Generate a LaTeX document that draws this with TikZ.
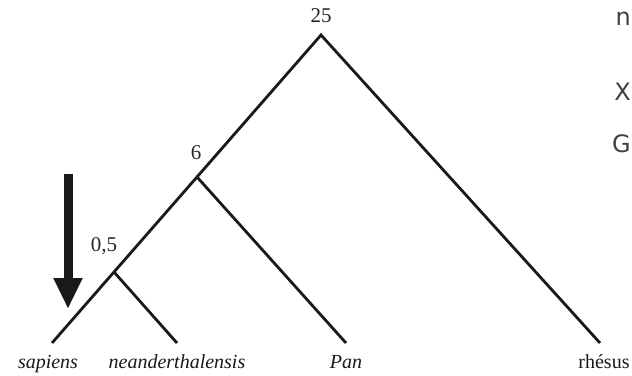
\documentclass[tikz,border=0pt]{standalone}
\usepackage{fontspec}
\setmainfont{Liberation Serif}
\newfontfamily\cutfont{DejaVu Sans}
\usetikzlibrary{arrows.meta}
\begin{document}
\begin{tikzpicture}[x=1pt,y=-1pt,
  branch/.style={line width=2.8pt, line cap=butt, black!90},
  lbl/.style={inner sep=0pt, font=\fontsize{21}{23}\selectfont, text=black!85},
  leaf/.style={inner sep=0pt, anchor=base, font=\fontsize{20}{22}\selectfont, text=black!90},
  cut/.style={inner sep=0pt, anchor=base east, font=\cutfont\fontsize{24}{26}\selectfont, text=black!75}]
\useasboundingbox (0,0) rectangle (632,375);
% tree points
\coordinate (root) at (321,35);
\coordinate (n6) at (197,177);
\coordinate (n05) at (114,272);
\coordinate (sap) at (52,343);
\coordinate (nea) at (177,343);
\coordinate (pan) at (346,343);
\coordinate (rhe) at (600,343);
% branches
\draw[branch] (sap) -- (root) -- (rhe);
\draw[branch] (n6) -- (pan);
\draw[branch] (n05) -- (nea);
% node labels
\node[lbl] (l25) at (321,16) {25};
\node[lbl] (l6) at (196,153) {6};
\node[lbl] (l05) at (104,246) {0,5};
% leaf labels
\node[leaf] (tsap) at (48,368) {\itshape sapiens};
\node[leaf] (tnea) at (177,368) {\itshape neanderthalensis};
\node[leaf] (tpan) at (346,368) {\itshape Pan};
\node[leaf] (trhe) at (604,368) {rhésus};
% arrow
\coordinate (atop) at (68,174);
\coordinate (atip) at (68,309);
\draw[line width=9pt, black!90, -{Triangle[length=31pt,width=27pt]}] (atop) -- (atip);
% letters at right edge
\node[cut] (c1) at (631,25) {n};
\node[cut] (c2) at (631,100) {X};
\node[cut] (c3) at (631,152) {G};
\end{tikzpicture}
\end{document}
